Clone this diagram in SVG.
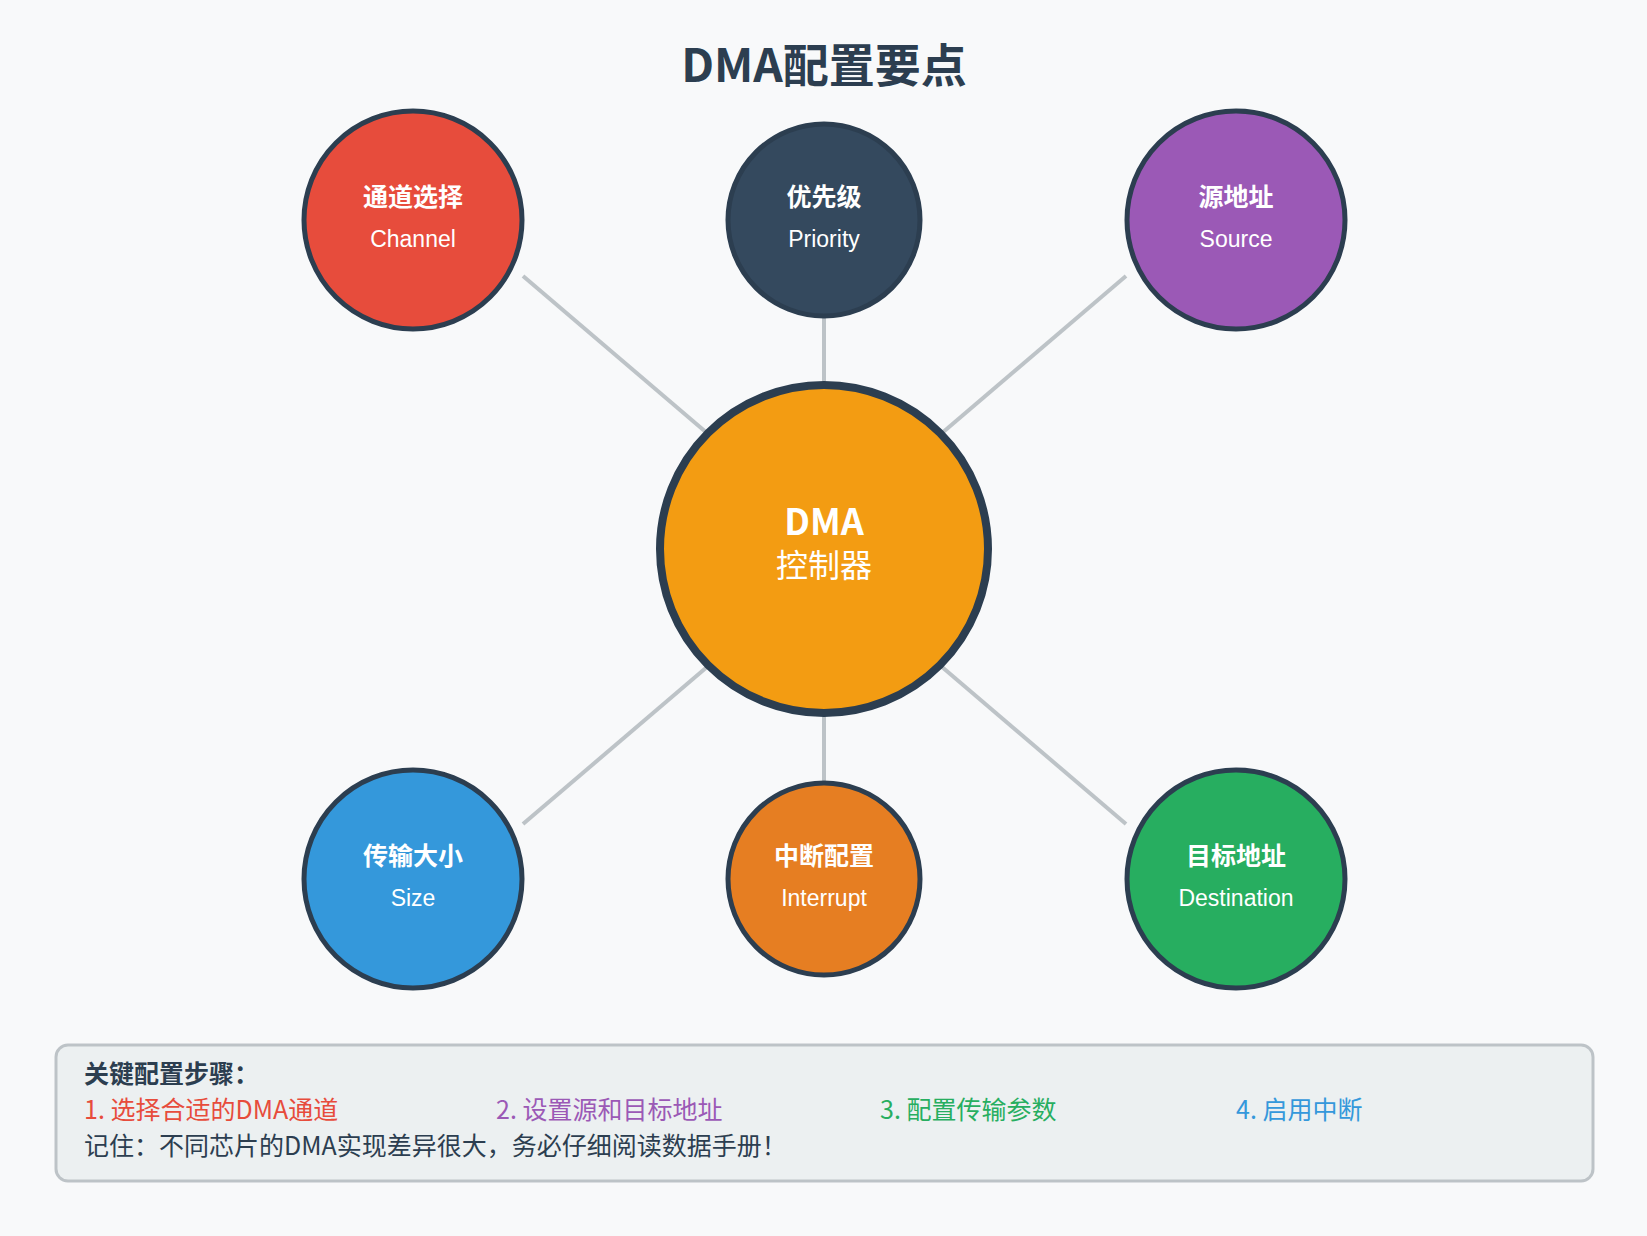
<svg xmlns="http://www.w3.org/2000/svg" width="1647" height="1236" viewBox="0 0 1647 1236">
<style>
text{font-family:"Noto Sans CJK SC","Liberation Sans",sans-serif;text-anchor:middle}
.n{stroke:#2c3e50;stroke-width:5}
.zh{font-size:25px;font-weight:bold;fill:#fff}
.en{font-size:23px;fill:#fff;font-family:"Liberation Sans","Noto Sans CJK SC",sans-serif}
.c line{stroke:#bdc3c7;stroke-width:4}
.s{font-size:25px;text-anchor:start}
</style>
<rect width="1647" height="1236" fill="#f8f9fa"/>
<text x="824" y="82" font-size="46" font-weight="bold" fill="#2c3e50">DMA配置要点</text>
<g class="c">
<line x1="523" y1="276" x2="714" y2="439"/>
<line x1="824" y1="318" x2="824" y2="385"/>
<line x1="1126" y1="276" x2="935" y2="439"/>
<line x1="714" y1="661" x2="523" y2="824"/>
<line x1="824" y1="716" x2="824" y2="782"/>
<line x1="935" y1="661" x2="1126" y2="824"/>
</g>
<g id="center"><circle cx="824" cy="549" r="164" fill="#f39c12" stroke="#2c3e50" stroke-width="8"/>
<text x="824" y="535" font-size="36" font-weight="bold" fill="#fff" font-family="Liberation Sans,sans-serif">DMA</text>
<text x="824" y="577" font-size="32" fill="#fff">控制器</text></g>
<g id="channel"><circle class="n" cx="413" cy="220" r="109" fill="#e74c3c"/><text class="zh" x="413" y="206">通道选择</text><text class="en" x="413" y="247">Channel</text></g>
<g id="priority"><circle class="n" cx="824" cy="220" r="96" fill="#34495e"/><text class="zh" x="824" y="206">优先级</text><text class="en" x="824" y="247">Priority</text></g>
<g id="source"><circle class="n" cx="1236" cy="220" r="109" fill="#9b59b6"/><text class="zh" x="1236" y="206">源地址</text><text class="en" x="1236" y="247">Source</text></g>
<g id="size"><circle class="n" cx="413" cy="879" r="109" fill="#3498db"/><text class="zh" x="413" y="865">传输大小</text><text class="en" x="413" y="906">Size</text></g>
<g id="interrupt"><circle class="n" cx="824" cy="879" r="96" fill="#e67e22"/><text class="zh" x="824" y="865">中断配置</text><text class="en" x="824" y="906">Interrupt</text></g>
<g id="destination"><circle class="n" cx="1236" cy="879" r="109" fill="#27ae60"/><text class="zh" x="1236" y="865">目标地址</text><text class="en" x="1236" y="906">Destination</text></g>
<g id="notes">
<rect x="56" y="1045" width="1537" height="136" rx="12" fill="#ecf0f1" stroke="#bdc3c7" stroke-width="3"/>
<text class="s" x="84" y="1083" font-weight="bold" fill="#2c3e50">关键配置步骤：</text>
<text class="s" x="84" y="1119" fill="#e74c3c">1. 选择合适的DMA通道</text>
<text class="s" x="496" y="1119" fill="#9b59b6">2. 设置源和目标地址</text>
<text class="s" x="880" y="1119" fill="#27ae60">3. 配置传输参数</text>
<text class="s" x="1236" y="1119" fill="#3498db">4. 启用中断</text>
<text class="s" x="84" y="1155" fill="#2c3e50">记住：不同芯片的DMA实现差异很大，务必仔细阅读数据手册！</text>
</g>
</svg>
